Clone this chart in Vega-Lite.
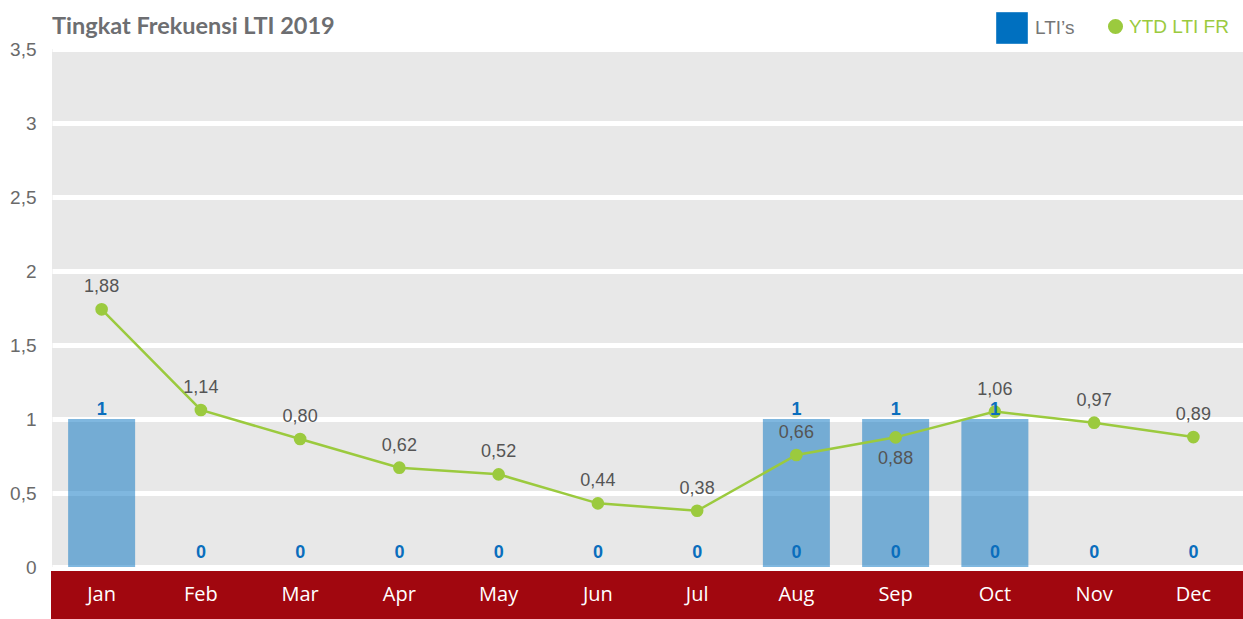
{
  "$schema": "https://vega.github.io/schema/vega-lite/v6.json",
  "width": 1191,
  "height": 518,
  "autosize": "none",
  "padding": {"left": 52, "top": 49, "right": 0, "bottom": 52},
  "background": "white",
  "title": {
    "text": "Tingkat Frekuensi LTI 2019",
    "anchor": "start",
    "frame": "group",
    "font": "Lato",
    "fontSize": 23.5,
    "fontWeight": "bold",
    "color": "#6d6e71",
    "baseline": "alphabetic",
    "offset": 0,
    "dy": 45
  },
  "config": {
    "view": {"fill": "#e8e8e8", "stroke": null},
    "legend": {"padding": 0}
  },
  "data": {
    "values": [
      {"month": "Jan", "lti": 1, "other": null, "fr": 1.741, "fr_label": "1,88"},
      {"month": "Feb", "lti": 0, "other": 0, "fr": 1.061, "fr_label": "1,14"},
      {"month": "Mar", "lti": 0, "other": 0, "fr": 0.865, "fr_label": "0,80"},
      {"month": "Apr", "lti": 0, "other": 0, "fr": 0.671, "fr_label": "0,62"},
      {"month": "May", "lti": 0, "other": 0, "fr": 0.626, "fr_label": "0,52"},
      {"month": "Jun", "lti": 0, "other": 0, "fr": 0.43, "fr_label": "0,44"},
      {"month": "Jul", "lti": 0, "other": 0, "fr": 0.38, "fr_label": "0,38"},
      {"month": "Aug", "lti": 1, "other": 0, "fr": 0.757, "fr_label": "0,66"},
      {"month": "Sep", "lti": 1, "other": 0, "fr": 0.876, "fr_label": "0,88"},
      {"month": "Oct", "lti": 1, "other": 0, "fr": 1.05, "fr_label": "1,06"},
      {"month": "Nov", "lti": 0, "other": 0, "fr": 0.975, "fr_label": "0,97"},
      {"month": "Dec", "lti": 0, "other": 0, "fr": 0.878, "fr_label": "0,89"}
    ]
  },
  "encoding": {
    "x": {
      "field": "month",
      "type": "ordinal",
      "sort": null,
      "scale": {"paddingInner": 0.325, "paddingOuter": 0.1625},
      "axis": {
        "title": null,
        "domain": false,
        "grid": false,
        "ticks": true,
        "tickColor": "#a1070f",
        "tickWidth": 101,
        "tickSize": 48,
        "tickCap": "butt",
        "offset": 3.5,
        "labelAngle": 0,
        "labelColor": "#ffffff",
        "labelFont": "Open Sans",
        "labelFontSize": 20,
        "labelBaseline": "middle",
        "labelPadding": -24
      }
    }
  },
  "layer": [
    {
      "mark": {"type": "bar", "fillOpacity": 0.5},
      "encoding": {
        "y": {
          "field": "lti",
          "type": "quantitative",
          "scale": {"domain": [0, 3.5], "nice": false},
          "axis": {
            "title": null,
            "values": [0, 0.5, 1, 1.5, 2, 2.5, 3, 3.5],
            "labelExpr": "replace(format(datum.value, ''), '.', ',')",
            "domain": false,
            "ticks": false,
            "grid": true,
            "gridColor": "#ffffff",
            "gridWidth": 5,
            "gridOpacity": 1,
            "labelColor": "#6a6a6a",
            "labelFont": "Liberation Sans",
            "labelFontSize": 19,
            "labelPadding": 16
          }
        },
        "fill": {
          "datum": "LTI’s",
          "type": "nominal",
          "scale": {"range": ["#0070c0"]},
          "legend": {
            "title": null,
            "orient": "none",
            "legendX": 944,
            "legendY": -37,
            "symbolType": "square",
            "symbolSize": 1000,
            "symbolOpacity": 1,
            "symbolStrokeWidth": 0,
            "labelColor": "#767676",
            "labelFont": "Liberation Sans",
            "labelFontSize": 19,
            "labelOffset": 7,
            "encode": {"symbols": {"update": {"fillOpacity": {"value": 1}, "opacity": {"value": 1}}}}
          }
        }
      }
    },
    {
      "mark": {"type": "line", "strokeWidth": 2.5},
      "encoding": {
        "y": {"field": "fr", "type": "quantitative"},
        "stroke": {
          "datum": "YTD LTI FR",
          "type": "nominal",
          "scale": {"range": ["#9bca3e"]},
          "legend": {
            "title": null,
            "orient": "none",
            "legendX": 1054,
            "legendY": -32,
            "symbolType": "circle",
            "symbolSize": 227,
            "symbolFillColor": "#9bca3e",
            "symbolStrokeWidth": 0,
            "labelColor": "#9bca3e",
            "labelFont": "Liberation Sans",
            "labelFontSize": 19,
            "labelOffset": 4,
            "encode": {"symbols": {"update": {"fill": {"value": "#9bca3e"}, "fillOpacity": {"value": 1}, "strokeWidth": {"value": 0}}}}
          }
        }
      }
    },
    {
      "mark": {"type": "circle", "size": 160, "opacity": 1, "color": "#9bca3e"},
      "encoding": {"y": {"field": "fr", "type": "quantitative"}}
    },
    {
      "transform": [{"filter": "datum.month !== 'Sep'"}],
      "mark": {"type": "text", "dy": -22, "baseline": "middle", "font": "Liberation Sans", "fontSize": 18, "color": "#555555"},
      "encoding": {"y": {"field": "fr", "type": "quantitative"}, "text": {"field": "fr_label"}}
    },
    {
      "transform": [{"filter": "datum.month === 'Sep'"}],
      "mark": {"type": "text", "dy": 22, "baseline": "middle", "font": "Liberation Sans", "fontSize": 18, "color": "#555555"},
      "encoding": {"y": {"field": "fr", "type": "quantitative"}, "text": {"field": "fr_label"}}
    },
    {
      "transform": [{"filter": "datum.lti > 0"}],
      "mark": {"type": "text", "dy": -9, "baseline": "middle", "font": "Liberation Sans", "fontSize": 18, "fontWeight": "bold", "color": "#0a6ebd"},
      "encoding": {"y": {"field": "lti", "type": "quantitative"}, "text": {"field": "lti"}}
    },
    {
      "transform": [{"filter": "isValid(datum.other)"}],
      "mark": {"type": "text", "dy": -14, "baseline": "middle", "font": "Liberation Sans", "fontSize": 18, "fontWeight": "bold", "color": "#0a6ebd"},
      "encoding": {"y": {"field": "other", "type": "quantitative"}, "text": {"field": "other"}}
    }
  ]
}
